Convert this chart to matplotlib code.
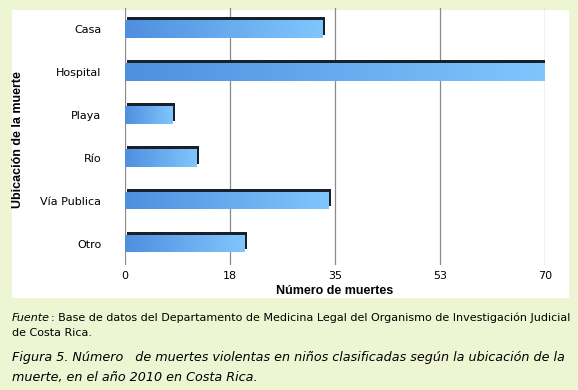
import matplotlib.pyplot as plt
import numpy as np
from matplotlib.patches import Rectangle

# data
lugares = ['Casa', 'Hospital', 'Playa', 'Río', 'Vía Publica', 'Otro']
muertes = [33, 70, 8, 12, 34, 20]
ticks = [0, 17.5, 35, 52.5, 70]
tick_labels = ['0', '18', '35', '53', '70']

fig = plt.figure(figsize=(5.78, 3.90), dpi=100, facecolor='#edf5d3')

# white panel behind the chart
fig.patches.append(Rectangle((12/578, 1 - 298/390), 557/578, 288/390,
                             transform=fig.transFigure, facecolor='white',
                             edgecolor='none', zorder=-1))

ax = fig.add_axes([125/578, 1 - 265/390, 420/578, 257.5/390])
ax.set_facecolor('none')
ax.set_zorder(1)

y = np.arange(len(lugares))
# dark "top face" of the 3d bars, drawn behind
ax.barh(y - 0.07, muertes, height=0.41, left=0.35, color='#17202b', zorder=2)
bars = ax.barh(y, muertes, height=0.41, color='#5a9be6', zorder=3)

# horizontal gradient on the front faces
grad = np.linspace(0, 1, 256).reshape(1, -1)
cmap = plt.matplotlib.colors.LinearSegmentedColormap.from_list('b', ['#4f8fdf', '#80c6fd'])
for b in bars:
    x0, y0 = b.get_x(), b.get_y()
    im = ax.imshow(grad, extent=[x0, x0 + b.get_width(), y0 + b.get_height(), y0],
                   cmap=cmap, aspect='auto', zorder=4)
    im.set_clip_path(b)

ax.set_xlim(0, 70)
ax.set_ylim(len(lugares) - 0.5, -0.5)
ax.set_yticks(y)
ax.set_yticklabels(lugares, fontsize=8)
ax.set_xticks(ticks)
ax.set_xticklabels(tick_labels, fontsize=8)
ax.tick_params(axis='y', length=0, pad=17)
ax.tick_params(axis='x', length=0, pad=4)
ax.grid(axis='x', color='#8a8a8a', linewidth=0.9, zorder=1)
ax.set_axisbelow(True)
for s in ax.spines.values():
    s.set_visible(False)

ax.set_xlabel('Número de muertes', fontsize=9, fontweight='bold',
              family='Liberation Sans', labelpad=3)
fig.text(18/578, 1 - 140/390, 'Ubicación de la muerte', rotation=90, fontsize=9,
         fontweight='bold', family='Liberation Sans', ha='center', va='center')

# caption text
r = fig.canvas.get_renderer()
t = fig.text(12/578, 1 - 318/390, 'Fuente', fontsize=8.0, style='italic', va='center')
w = t.get_window_extent(r).x1
fig.text(w/578 + 0.002, 1 - 318/390,
         ': Base de datos del Departamento de Medicina Legal del Organismo de Investigación Judicial',
         fontsize=8.0, va='center')
fig.text(12/578, 1 - 333/390, 'de Costa Rica.', fontsize=8.0, va='center')
fig.text(12/578, 1 - 358/390,
         'Figura 5. Número   de muertes violentas en niños clasificadas según la ubicación de la',
         fontsize=9.2, style='italic', va='center')
fig.text(12/578, 1 - 378/390, 'muerte, en el año 2010 en Costa Rica.',
         fontsize=9.2, style='italic', va='center')

plt.savefig('out.png', dpi=100, facecolor=fig.get_facecolor())
